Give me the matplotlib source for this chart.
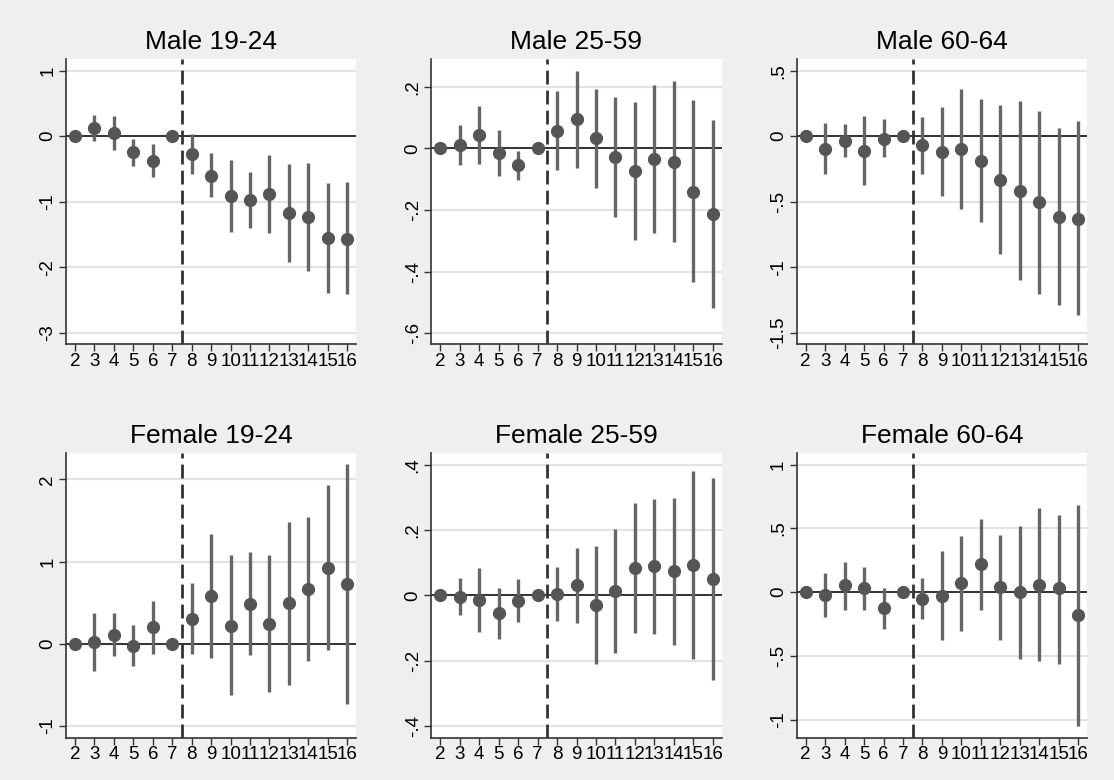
import numpy as np
import matplotlib
matplotlib.use("Agg")
import matplotlib.pyplot as plt
from matplotlib.ticker import FuncFormatter

plt.rcParams['font.family'] = ['Liberation Sans', 'DejaVu Sans']

periods = list(range(2, 17))

titles = ["Male 19-24", "Male 25-59", "Male 60-64",
          "Female 19-24", "Female 25-59", "Female 60-64"]

# point estimates, lower and upper CI bounds
m1924_est = [0, 0.13, 0.05, -0.24, -0.38, 0, -0.27, -0.60, -0.92, -0.97, -0.88, -1.18, -1.23, -1.56, -1.57]
m1924_lo = [0, -0.07, -0.21, -0.45, -0.63, 0, -0.57, -0.93, -1.47, -1.40, -1.48, -1.92, -2.06, -2.40, -2.41]
m1924_hi = [0, 0.32, 0.31, -0.04, -0.12, 0, 0.03, -0.26, -0.37, -0.55, -0.29, -0.43, -0.41, -0.72, -0.70]

m2559_est = [0, 0.010, 0.043, -0.014, -0.054, 0, 0.058, 0.096, 0.034, -0.027, -0.072, -0.035, -0.043, -0.141, -0.214]
m2559_lo = [0, -0.055, -0.051, -0.088, -0.103, 0, -0.071, -0.064, -0.130, -0.223, -0.296, -0.276, -0.303, -0.434, -0.520]
m2559_hi = [0, 0.076, 0.139, 0.061, -0.008, 0, 0.187, 0.253, 0.195, 0.166, 0.151, 0.208, 0.218, 0.157, 0.093]

m6064_est = [0, -0.094, -0.036, -0.110, -0.018, 0, -0.071, -0.117, -0.099, -0.186, -0.332, -0.416, -0.505, -0.615, -0.630]
m6064_lo = [0, -0.286, -0.161, -0.375, -0.158, 0, -0.291, -0.454, -0.559, -0.653, -0.898, -1.094, -1.204, -1.291, -1.362]
m6064_hi = [0, 0.100, 0.092, 0.156, 0.128, 0, 0.145, 0.222, 0.362, 0.281, 0.237, 0.265, 0.196, 0.066, 0.115]

f1924_est = [0, 0.016, 0.109, -0.028, 0.203, 0, 0.304, 0.576, 0.219, 0.490, 0.243, 0.495, 0.669, 0.924, 0.722]
f1924_lo = [0, -0.328, -0.150, -0.272, -0.130, 0, -0.126, -0.174, -0.628, -0.134, -0.592, -0.499, -0.207, -0.077, -0.730]
f1924_hi = [0, 0.369, 0.373, 0.223, 0.523, 0, 0.738, 1.334, 1.078, 1.111, 1.086, 1.488, 1.548, 1.934, 2.185]

f2559_est = [0, -0.005, -0.014, -0.053, -0.016, 0, 0.003, 0.032, -0.030, 0.014, 0.085, 0.089, 0.074, 0.094, 0.051]
f2559_lo = [0, -0.061, -0.112, -0.132, -0.081, 0, -0.079, -0.083, -0.209, -0.177, -0.114, -0.118, -0.153, -0.195, -0.258]
f2559_hi = [0, 0.052, 0.083, 0.024, 0.049, 0, 0.086, 0.146, 0.152, 0.205, 0.284, 0.296, 0.300, 0.382, 0.359]

f6064_est = [0, -0.026, 0.052, 0.031, -0.125, 0, -0.052, -0.029, 0.070, 0.217, 0.037, 0.0, 0.057, 0.029, -0.183]
f6064_lo = [0, -0.196, -0.138, -0.138, -0.290, 0, -0.214, -0.373, -0.303, -0.144, -0.379, -0.522, -0.543, -0.561, -1.050]
f6064_hi = [0, 0.151, 0.238, 0.196, 0.034, 0, 0.110, 0.321, 0.441, 0.577, 0.446, 0.517, 0.658, 0.606, 0.684]

yticks = [[-3, -2, -1, 0, 1], [-0.6, -0.4, -0.2, 0, 0.2], [-1.5, -1, -0.5, 0, 0.5],
          [-1, 0, 1, 2], [-0.4, -0.2, 0, 0.2, 0.4], [-1, -0.5, 0, 0.5, 1]]
ylims = [(-3.18, 1.18), (-0.637, 0.291), (-1.589, 0.589),
         (-1.147, 2.327), (-0.437, 0.438), (-1.144, 1.094)]

series = [(m1924_est, m1924_lo, m1924_hi), (m2559_est, m2559_lo, m2559_hi),
          (m6064_est, m6064_lo, m6064_hi), (f1924_est, f1924_lo, f1924_hi),
          (f2559_est, f2559_lo, f2559_hi), (f6064_est, f6064_lo, f6064_hi)]


def stata_fmt(v, pos):
    # Stata style: drop the leading zero (".5", "-.2")
    if abs(v) < 1e-9:
        return "0"
    s = ("%g" % round(v, 3))
    s = s.replace("0.", ".")
    return s


bg = "#efefef"
fig, axes = plt.subplots(2, 3, figsize=(11.14, 7.8), dpi=100, facecolor=bg)
fig.subplots_adjust(left=66/1114, right=1087/1114, top=1-59/780, bottom=1-738/780,
                    wspace=0.259, hspace=0.379)

for i, ax in enumerate(axes.flat):
    est, lo, hi = series[i]
    x = np.array(periods)
    ax.set_facecolor("white")
    for t in yticks[i]:
        ax.axhline(t, color="#e3e3e3", lw=1.5, zorder=0)
    ax.axhline(0, color="#333333", lw=1.4, zorder=1)
    ax.axvline(7.5, color="#333333", lw=2.0, ls=(0, (5, 2.2)), zorder=1)
    ax.vlines(x, lo, hi, color="#666666", lw=2.4, zorder=2)
    ax.plot(x, est, "o", color="#555555", ms=8.5, zorder=3)
    ax.set_xlim(1.54, 16.46)
    ax.set_ylim(*ylims[i])
    ax.set_xticks(periods)
    ax.set_yticks(yticks[i])
    ax.yaxis.set_major_formatter(FuncFormatter(stata_fmt))
    for lab in ax.get_yticklabels():
        lab.set_rotation(90)
        lab.set_va("center")
    ax.tick_params(axis="both", labelsize=13.5, length=5, width=1, color="#333333", pad=2)
    ax.tick_params(axis="x", pad=1)
    ax.spines["top"].set_visible(False)
    ax.spines["right"].set_visible(False)
    for s in ("left", "bottom"):
        ax.spines[s].set_color("#333333")
        ax.spines[s].set_linewidth(1.2)
    ax.set_title(titles[i], fontsize=19, pad=7)

fig.savefig("out.png", dpi=100, facecolor=bg)
